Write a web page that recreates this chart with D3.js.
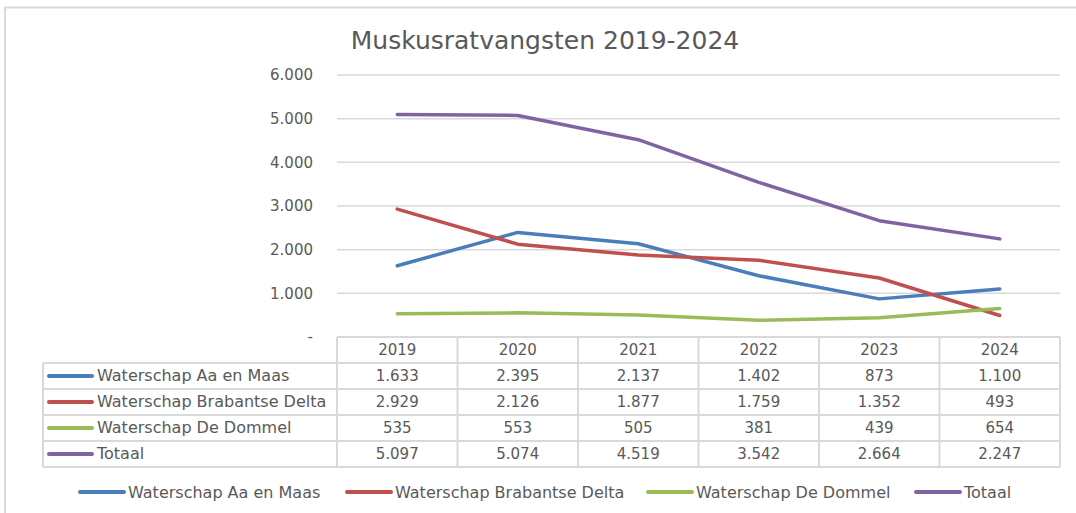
<!DOCTYPE html>
<html>
<head>
<meta charset="utf-8">
<script src="https://cdn.jsdelivr.net/npm/d3@7"></script>
<style>
  body { margin: 0; background: #fff; }
  svg { display: block; font-family: "DejaVu Sans", sans-serif; }
</style>
</head>
<body>
<div id="chart"></div>
<script>
// Muskusratvangsten 2019-2024 — line chart with data table

const years = ['2019', '2020', '2021', '2022', '2023', '2024'];
const seriesNames = ['Waterschap Aa en Maas', 'Waterschap Brabantse Delta', 'Waterschap De Dommel', 'Totaal'];
const aaEnMaas = [1633, 2395, 2137, 1402, 873, 1100];
const brabantseDelta = [2929, 2126, 1877, 1759, 1352, 493];
const deDommel = [535, 553, 505, 381, 439, 654];
const totaal = [5097, 5074, 4519, 3542, 2664, 2247];
const yTicks = [0, 1000, 2000, 3000, 4000, 5000, 6000];
const colors = ['#4a7ebb', '#c0504d', '#9bbb59', '#8064a2'];

const seriesValues = [aaEnMaas, brabantseDelta, deDommel, totaal];

const width = 1076, height = 513;
const plotLeft = 337, plotRight = 1060, plotTop = 75, plotBottom = 337;
const rowH = 26;
const tableLeft = 43;
const textColor = '#595959';
const gridColor = '#d9d9d9';

const nl = d3.formatLocale({ decimal: ',', thousands: '.', grouping: [3], currency: ['', ''] });
const fmt = nl.format(',d');

const svg = d3.select('#chart').append('svg')
    .attr('width', width).attr('height', height);

// outer frame (only top and left edges are visible)
svg.append('rect').attr('x', 5).attr('y', 7.5).attr('width', width + 10).attr('height', height + 10)
    .attr('fill', 'none').attr('stroke', gridColor).attr('stroke-width', 2);

svg.append('text').text('Muskusratvangsten 2019-2024')
    .attr('x', 545).attr('y', 49).attr('text-anchor', 'middle')
    .attr('fill', textColor).attr('font-size', '25px');

const x = d3.scaleBand().domain(years).range([plotLeft, plotRight]);
const y = d3.scaleLinear().domain([0, 6000]).range([plotBottom, plotTop]);

// gridlines
svg.append('g').selectAll('line').data(yTicks.filter(d => d > 0)).enter()
    .append('line')
    .attr('x1', plotLeft).attr('x2', plotRight)
    .attr('y1', d => y(d)).attr('y2', d => y(d))
    .attr('stroke', gridColor).attr('stroke-width', 1.5);

// y axis labels
const yAxis = d3.axisLeft(y).tickValues(yTicks).tickSize(0).tickPadding(24)
    .tickFormat(d => d === 0 ? '-' : fmt(d));
const yg = svg.append('g').attr('transform', `translate(${plotLeft},0)`).call(yAxis);
yg.select('.domain').remove();
yg.selectAll('text').attr('fill', textColor).attr('font-size', '15px')
    .attr('font-family', '"DejaVu Sans", sans-serif');

// lines
const line = d3.line()
    .x((d, i) => x(years[i]) + x.bandwidth() / 2)
    .y(d => y(d));

svg.append('g').selectAll('path').data(seriesValues).enter()
    .append('path')
    .attr('d', d => line(d))
    .attr('fill', 'none')
    .attr('stroke', (d, i) => colors[i])
    .attr('stroke-width', 3.5)
    .attr('stroke-linejoin', 'round')
    .attr('stroke-linecap', 'round');

// data table
const table = svg.append('g');
const tBottom = plotBottom + rowH * 5;

// horizontal lines
table.append('line').attr('x1', plotLeft).attr('x2', plotRight)
    .attr('y1', plotBottom).attr('y2', plotBottom);
for (let r = 1; r <= 5; r++) {
    table.append('line').attr('x1', tableLeft).attr('x2', plotRight)
        .attr('y1', plotBottom + rowH * r).attr('y2', plotBottom + rowH * r);
}
// vertical lines
table.append('line').attr('x1', tableLeft).attr('x2', tableLeft)
    .attr('y1', plotBottom + rowH).attr('y2', tBottom);
years.forEach(yr => {
    table.append('line').attr('x1', x(yr)).attr('x2', x(yr))
        .attr('y1', plotBottom).attr('y2', tBottom);
});
table.append('line').attr('x1', plotRight).attr('x2', plotRight)
    .attr('y1', plotBottom).attr('y2', tBottom);
table.selectAll('line').attr('stroke', gridColor).attr('stroke-width', 2);

// header
table.selectAll('text.year').data(years).enter().append('text')
    .attr('class', 'year').text(d => d)
    .attr('x', d => x(d) + x.bandwidth() / 2)
    .attr('y', plotBottom + rowH / 2 + 5)
    .attr('text-anchor', 'middle').attr('fill', textColor).attr('font-size', '15px');

// rows
seriesNames.forEach((name, i) => {
    const cy = plotBottom + rowH * (i + 1) + rowH / 2;
    table.append('line').attr('x1', 49).attr('x2', 92).attr('y1', cy).attr('y2', cy)
        .attr('stroke', colors[i]).attr('stroke-width', 4).attr('stroke-linecap', 'round');
    table.append('text').text(name).attr('x', 97).attr('y', cy + 5)
        .attr('fill', textColor).attr('font-size', '16px');
    seriesValues[i].forEach((v, j) => {
        table.append('text').text(fmt(v))
            .attr('x', x(years[j]) + x.bandwidth() / 2).attr('y', cy + 5)
            .attr('text-anchor', 'middle').attr('fill', textColor).attr('font-size', '15px');
    });
});

// legend
const legendX = [80, 347, 648, 916];
const legend = svg.append('g');
seriesNames.forEach((name, i) => {
    const lx = legendX[i], ly = 492;
    legend.append('line').attr('x1', lx).attr('x2', lx + 44).attr('y1', ly).attr('y2', ly)
        .attr('stroke', colors[i]).attr('stroke-width', 4).attr('stroke-linecap', 'round');
    legend.append('text').text(name).attr('x', lx + 48).attr('y', ly + 6)
        .attr('fill', textColor).attr('font-size', '16px');
});
</script>
</body>
</html>
